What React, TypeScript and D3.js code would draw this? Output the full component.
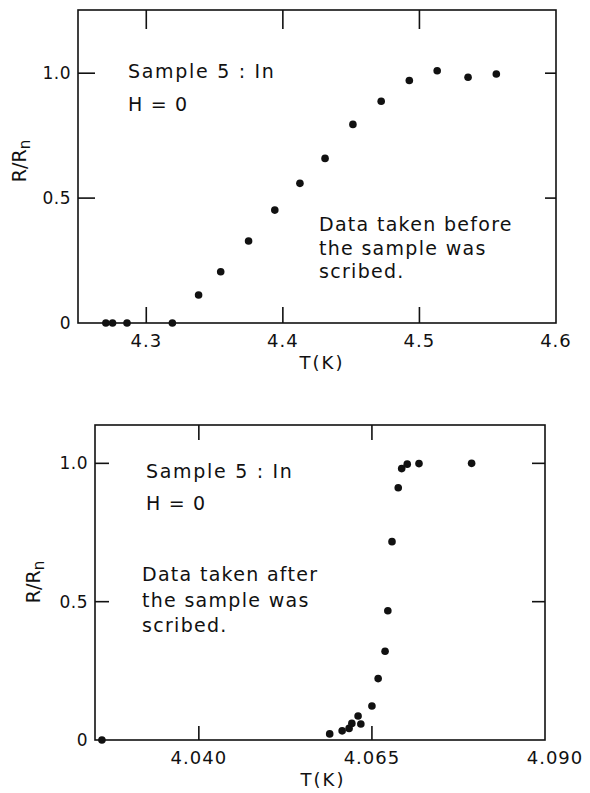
import React from "react";
import * as d3 from "d3";

// ---- Data: top panel (before scribing) ----
const topT = [4.2704, 4.2753, 4.2859, 4.3191, 4.3383, 4.3545, 4.3749, 4.3941, 4.4125, 4.4309, 4.4513, 4.4720, 4.4926, 4.5130, 4.5356, 4.5563];
const topR = [0, 0, 0, 0, 0.112, 0.205, 0.328, 0.452, 0.559, 0.659, 0.795, 0.888, 0.971, 1.010, 0.984, 0.997];
const topXTicks = [4.3, 4.4, 4.5, 4.6];
const topXTickLabels = ["4.3", "4.4", "4.5", "4.6"];

// ---- Data: bottom panel (after scribing) ----
const botT = [4.0260, 4.0589, 4.0607, 4.0617, 4.0621, 4.0630, 4.0634, 4.0650, 4.0659, 4.0669, 4.0673, 4.0679, 4.0688, 4.0693, 4.0701, 4.0718, 4.0794];
const botR = [0, 0.022, 0.033, 0.042, 0.060, 0.087, 0.058, 0.123, 0.222, 0.321, 0.467, 0.717, 0.912, 0.981, 0.997, 0.999, 1.0];
const botXTicks = [4.040, 4.065, 4.090];
const botXTickLabels = ["4.040", "4.065", "4.090"];

const yTicks = [0, 0.5, 1.0];
const yTickLabels = ["0", "0.5", "1.0"];

const FONT = "'DejaVu Sans', sans-serif";
const INK = "#111";

type PanelProps = {
  xDomain: [number, number];
  yDomain: [number, number];
  left: number; right: number; top: number; bottom: number;
  T: number[]; R: number[];
  xTicks: number[]; xTickLabels: string[];
  tickTop: number; tickBottom: number; tickLeft: number; tickRight: number;
  xLabelY: number; xTitleX: number; xTitleY: number;
  yTitleX: number; yTitleY: number;
  title: { x: number; y: number; gap: number };
  note: { x: number; y: number; lh: number; lines: string[] };
  lastLabelDx: number;
};

function Panel(p: PanelProps) {
  const x = d3.scaleLinear().domain(p.xDomain).range([p.left, p.right]);
  const y = d3.scaleLinear().domain(p.yDomain).range([p.bottom, p.top]);
  const innerX = p.xTicks.filter((t) => x(t) < p.right - 2);
  const innerY = yTicks.filter((t) => t > 0);
  return (
    <g>
      <rect x={p.left} y={p.top} width={p.right - p.left} height={p.bottom - p.top}
        fill="none" stroke={INK} strokeWidth={1.6} />
      {innerX.map((t) => (
        <g key={"xt" + t}>
          <line x1={x(t)} x2={x(t)} y1={p.bottom} y2={p.bottom - p.tickBottom} stroke={INK} strokeWidth={1.6} />
          <line x1={x(t)} x2={x(t)} y1={p.top} y2={p.top + p.tickTop} stroke={INK} strokeWidth={1.6} />
        </g>
      ))}
      {innerY.map((t) => (
        <g key={"yt" + t}>
          <line x1={p.left} x2={p.left + p.tickLeft} y1={y(t)} y2={y(t)} stroke={INK} strokeWidth={1.6} />
          <line x1={p.right} x2={p.right - p.tickRight} y1={y(t)} y2={y(t)} stroke={INK} strokeWidth={1.6} />
        </g>
      ))}
      {p.xTicks.map((t, i) => (
        <text key={"xl" + t} x={x(t)} y={p.xLabelY} dx={i === p.xTicks.length - 1 ? p.lastLabelDx : 0}
          textAnchor="middle" fontFamily={FONT} fontSize={18} letterSpacing={1} fill={INK}>
          {p.xTickLabels[i]}
        </text>
      ))}
      {yTicks.map((t, i) => (
        <text key={"yl" + t} x={p.left - 7} y={y(t)} dy="0.36em" textAnchor="end"
          fontFamily={FONT} fontSize={17} letterSpacing={0.5} fill={INK}>
          {yTickLabels[i]}
        </text>
      ))}
      <text x={p.xTitleX} y={p.xTitleY} textAnchor="middle" fontFamily={FONT} fontSize={18}
        letterSpacing={2} fill={INK}>T(K)</text>
      <text transform={`translate(${p.yTitleX},${p.yTitleY}) rotate(-90)`} textAnchor="middle"
        fontFamily={FONT} fontSize={19} fill={INK}>
        R/R<tspan fontSize={15} dy={4}>n</tspan>
      </text>
      <text x={p.title.x} y={p.title.y} fontFamily={FONT} fontSize={19} letterSpacing={1.7} fill={INK}>
        Sample 5 : In
      </text>
      <text x={p.title.x} y={p.title.y + p.title.gap} fontFamily={FONT} fontSize={19}
        letterSpacing={1.2} fill={INK}>H = 0</text>
      {p.note.lines.map((l, i) => (
        <text key={"n" + i} x={p.note.x} y={p.note.y + i * p.note.lh} fontFamily={FONT}
          fontSize={19} letterSpacing={1.3} fill={INK}>{l}</text>
      ))}
      {p.T.map((t, i) => (
        <circle key={"pt" + i} cx={x(t)} cy={y(p.R[i])} r={3.8} fill={INK} />
      ))}
    </g>
  );
}

export default function App() {
  return (
    <svg width={590} height={793} style={{ position: "absolute", left: 0, top: 0, background: "#fff" }}>
      <rect width={590} height={793} fill="#fff" />
      <Panel
        xDomain={[4.25, 4.6]} yDomain={[0, 1.253]}
        left={78} right={556} top={10} bottom={323}
        T={topT} R={topR} xTicks={topXTicks} xTickLabels={topXTickLabels}
        tickTop={19} tickBottom={16} tickLeft={17} tickRight={11}
        xLabelY={347} xTitleX={322} xTitleY={369}
        yTitleX={26} yTitleY={161}
        title={{ x: 128, y: 78, gap: 33 }}
        note={{ x: 319, y: 231, lh: 23.5, lines: ["Data taken before", "the sample was", "scribed."] }}
        lastLabelDx={0}
      />
      <Panel
        xDomain={[4.025, 4.09]} yDomain={[0, 1.1386]}
        left={95} right={545} top={425} bottom={740}
        T={botT} R={botR} xTicks={botXTicks} xTickLabels={botXTickLabels}
        tickTop={15} tickBottom={14} tickLeft={14} tickRight={13}
        xLabelY={764} xTitleX={323} xTitleY={786}
        yTitleX={40} yTitleY={582}
        title={{ x: 146, y: 478, gap: 32 }}
        note={{ x: 142, y: 581, lh: 25.5, lines: ["Data taken after", "the sample was", "scribed."] }}
        lastLabelDx={10}
      />
    </svg>
  );
}
